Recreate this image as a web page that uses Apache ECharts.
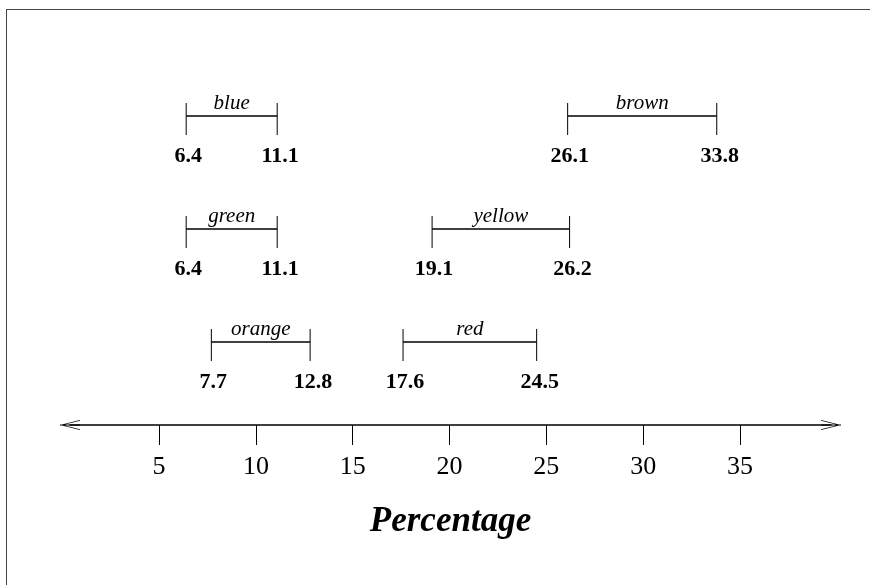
<!DOCTYPE html>
<html>
<head>
<meta charset="utf-8">
<script src="https://cdn.jsdelivr.net/npm/echarts@6/dist/echarts.min.js"></script>
<style>
html,body{margin:0;padding:0;background:#fff;}
#chart{width:870px;height:585px;}
</style>
</head>
<body>
<div id="chart"></div>
<script>
// ---- data ----
const names = ['blue', 'brown', 'green', 'yellow', 'orange', 'red'];
const lows  = [6.4, 26.1, 6.4, 19.1, 7.7, 17.6];
const highs = [11.1, 33.8, 11.1, 26.2, 12.8, 24.5];
const rows  = [3, 3, 2, 2, 1, 1];          // row index (top row = 3)
const tickValues = [5, 10, 15, 20, 25, 30, 35];
const axisTitle = 'Percentage';

const FONT = '"Liberation Serif", "Times New Roman", serif';

const seriesData = names.map((n, i) => [lows[i], highs[i], rows[i], n]);

const chart = echarts.init(document.getElementById('chart'), null, {renderer: 'canvas'});

const arrowPath = 'path://M25,0 L50,100 L46.5,100 L25,14 L3.5,100 L0,100 Z M22,0 L28,0 L28,100 L22,100 Z';

chart.setOption({
  animation: false,
  backgroundColor: '#fff',
  grid: {left: 70, right: 39, top: 59.5, bottom: 160, containLabel: false},
  xAxis: {
    type: 'value',
    min: 0.4,
    max: 39.7,
    position: 'bottom',
    splitLine: {show: false},
    axisLine: {
      show: true,
      onZero: false,
      lineStyle: {color: '#000', width: 1.5},
      symbol: [arrowPath, arrowPath],
      symbolSize: [10, 20]
    },
    axisTick: {
      show: true,
      length: 20,
      lineStyle: {color: '#000', width: 1},
      customValues: tickValues
    },
    axisLabel: {
      show: true,
      margin: 29,
      color: '#000',
      fontFamily: FONT,
      fontSize: 26,
      customValues: tickValues
    },
    name: axisTitle,
    nameLocation: 'middle',
    nameGap: 79,
    nameTextStyle: {
      color: '#000',
      fontFamily: FONT,
      fontSize: 35,
      fontWeight: 'bold',
      fontStyle: 'italic'
    }
  },
  yAxis: {
    type: 'value',
    min: 0.2655,
    max: 3.5,
    show: false
  },
  graphic: [
    {type: 'line', shape: {x1: 6, y1: 9.5, x2: 870, y2: 9.5}, style: {stroke: '#444', lineWidth: 1}, silent: true},
    {type: 'line', shape: {x1: 6.5, y1: 9, x2: 6.5, y2: 585}, style: {stroke: '#444', lineWidth: 1}, silent: true}
  ],
  series: [{
    type: 'custom',
    data: seriesData,
    encode: {x: [0, 1], y: 2},
    renderItem: function (params, api) {
      const lo = api.coord([api.value(0), api.value(2)]);
      const hi = api.coord([api.value(1), api.value(2)]);
      const y = lo[1];
      const name = seriesData[params.dataIndex][3];
      const s = {stroke: '#000', lineWidth: 1.5};
      const t = {stroke: '#000', lineWidth: 1};
      return {
        type: 'group',
        children: [
          {type: 'line', shape: {x1: lo[0], y1: y, x2: hi[0], y2: y}, style: s},
          {type: 'line', shape: {x1: lo[0], y1: y - 13, x2: lo[0], y2: y + 19}, style: t},
          {type: 'line', shape: {x1: hi[0], y1: y - 13, x2: hi[0], y2: y + 19}, style: t},
          {type: 'text', style: {
            x: (lo[0] + hi[0]) / 2, y: y - 2, text: name,
            align: 'center', verticalAlign: 'bottom',
            font: 'italic 500 21px ' + FONT, fill: '#000'}},
          {type: 'text', style: {
            x: lo[0] + 2, y: y + 40, text: api.value(0).toFixed(1),
            align: 'center', verticalAlign: 'middle',
            font: 'bold 22px ' + FONT, fill: '#000'}},
          {type: 'text', style: {
            x: hi[0] + 3, y: y + 40, text: api.value(1).toFixed(1),
            align: 'center', verticalAlign: 'middle',
            font: 'bold 22px ' + FONT, fill: '#000'}}
        ]
      };
    }
  }]
});
</script>
</body>
</html>
